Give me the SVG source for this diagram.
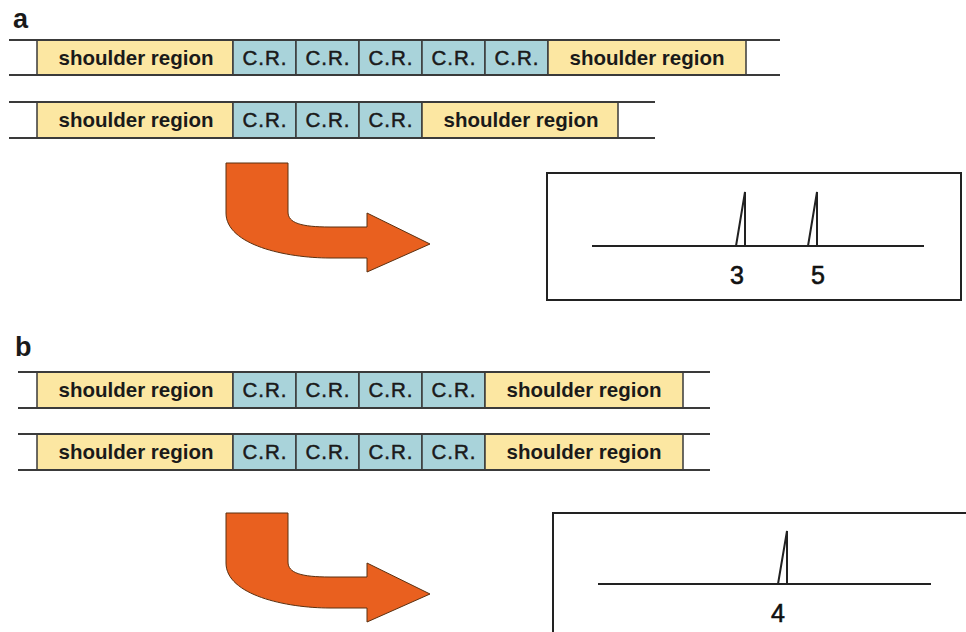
<svg xmlns="http://www.w3.org/2000/svg" width="966" height="632" viewBox="0 0 966 632">
<style>
.line{stroke:#3a3a3a;stroke-width:2;fill:none}
.sh{fill:#FCE7A2;stroke:#3a3a3a;stroke-width:1.5}
.cr{fill:#A9D3DA;stroke:#3a3a3a;stroke-width:1.5}
.tsh{font-family:"Liberation Sans",Arial,sans-serif;font-weight:bold;font-size:20.5px;fill:#1a1a1a;text-anchor:middle}
.tcr{font-family:"Liberation Sans",Arial,sans-serif;font-size:20.5px;fill:#1a1a1a;stroke:#1a1a1a;stroke-width:0.5;letter-spacing:1px;text-anchor:middle}
.lbl{font-family:"Liberation Sans",Arial,sans-serif;font-weight:bold;font-size:27px;fill:#1a1a1a}
.num{font-family:"Liberation Sans",Arial,sans-serif;font-size:25px;fill:#111;stroke:#111;stroke-width:0.6;text-anchor:middle}
.arrow{fill:#E9601F;stroke:#5a3010;stroke-width:1}
.box{fill:#fff;stroke:#222;stroke-width:2}
.peak{stroke:#222;stroke-width:2;fill:none}
</style>
<defs>
<path id="arr" d="M 0,0 L 62,0 L 62,49 C 62,60 75,64 104,64 L 141,64 L 141,50 L 204,81 L 141,109 L 141,95 L 104,95 C 60,95 0,82 0,50 Z"/>
</defs>

<text class="lbl" x="13" y="28">a</text>
<text class="lbl" x="15" y="356">b</text>

<g id="rowA1">
<rect class="sh" x="37" y="40" width="196" height="35"/>
<rect class="cr" x="233" y="40" width="63" height="35"/>
<rect class="cr" x="296" y="40" width="63" height="35"/>
<rect class="cr" x="359" y="40" width="63" height="35"/>
<rect class="cr" x="422" y="40" width="63" height="35"/>
<rect class="cr" x="485" y="40" width="63" height="35"/>
<rect class="sh" x="548" y="40" width="198" height="35"/>
<line class="line" x1="9" y1="40" x2="780" y2="40"/>
<line class="line" x1="9" y1="75" x2="780" y2="75"/>
<text class="tsh" x="136" y="65">shoulder region</text>
<text class="tcr" x="265" y="65">C.R.</text>
<text class="tcr" x="328" y="65">C.R.</text>
<text class="tcr" x="391" y="65">C.R.</text>
<text class="tcr" x="454" y="65">C.R.</text>
<text class="tcr" x="517" y="65">C.R.</text>
<text class="tsh" x="647" y="65">shoulder region</text>
</g>

<g id="rowA2">
<rect class="sh" x="37" y="102" width="196" height="36"/>
<rect class="cr" x="233" y="102" width="63" height="36"/>
<rect class="cr" x="296" y="102" width="63" height="36"/>
<rect class="cr" x="359" y="102" width="63" height="36"/>
<rect class="sh" x="422" y="102" width="196" height="36"/>
<line class="line" x1="9" y1="102" x2="655" y2="102"/>
<line class="line" x1="9" y1="138" x2="655" y2="138"/>
<text class="tsh" x="136" y="127">shoulder region</text>
<text class="tcr" x="265" y="127">C.R.</text>
<text class="tcr" x="328" y="127">C.R.</text>
<text class="tcr" x="391" y="127">C.R.</text>
<text class="tsh" x="521" y="127">shoulder region</text>
</g>

<g id="arrowA">
<use href="#arr" class="arrow" transform="translate(226,163)"/>
</g>

<g id="chartA">
<rect class="box" x="547" y="173" width="414" height="127"/>
<line class="peak" x1="592" y1="246" x2="924" y2="246"/>
<path class="peak" d="M 736,246 L 745,192 L 745,246"/>
<path class="peak" d="M 808,246 L 817,192 L 817,246"/>
<text class="num" x="737" y="284">3</text>
<text class="num" x="818" y="284">5</text>
</g>

<g id="rowB1">
<rect class="sh" x="37" y="372" width="196" height="36"/>
<rect class="cr" x="233" y="372" width="63" height="36"/>
<rect class="cr" x="296" y="372" width="63" height="36"/>
<rect class="cr" x="359" y="372" width="63" height="36"/>
<rect class="cr" x="422" y="372" width="63" height="36"/>
<rect class="sh" x="485" y="372" width="198" height="36"/>
<line class="line" x1="18" y1="372" x2="710" y2="372"/>
<line class="line" x1="18" y1="408" x2="710" y2="408"/>
<text class="tsh" x="136" y="397">shoulder region</text>
<text class="tcr" x="265" y="397">C.R.</text>
<text class="tcr" x="328" y="397">C.R.</text>
<text class="tcr" x="391" y="397">C.R.</text>
<text class="tcr" x="454" y="397">C.R.</text>
<text class="tsh" x="584" y="397">shoulder region</text>
</g>

<g id="rowB2">
<rect class="sh" x="37" y="434" width="196" height="36"/>
<rect class="cr" x="233" y="434" width="63" height="36"/>
<rect class="cr" x="296" y="434" width="63" height="36"/>
<rect class="cr" x="359" y="434" width="63" height="36"/>
<rect class="cr" x="422" y="434" width="63" height="36"/>
<rect class="sh" x="485" y="434" width="198" height="36"/>
<line class="line" x1="18" y1="434" x2="710" y2="434"/>
<line class="line" x1="18" y1="470" x2="710" y2="470"/>
<text class="tsh" x="136" y="459">shoulder region</text>
<text class="tcr" x="265" y="459">C.R.</text>
<text class="tcr" x="328" y="459">C.R.</text>
<text class="tcr" x="391" y="459">C.R.</text>
<text class="tcr" x="454" y="459">C.R.</text>
<text class="tsh" x="584" y="459">shoulder region</text>
</g>

<g id="arrowB">
<use href="#arr" class="arrow" transform="translate(226,513)"/>
</g>

<g id="chartB">
<rect class="box" x="553" y="513" width="420" height="130"/>
<line class="peak" x1="598" y1="584" x2="931" y2="584"/>
<path class="peak" d="M 778,584 L 787,531 L 787,584"/>
<text class="num" x="778" y="622">4</text>
</g>
</svg>
